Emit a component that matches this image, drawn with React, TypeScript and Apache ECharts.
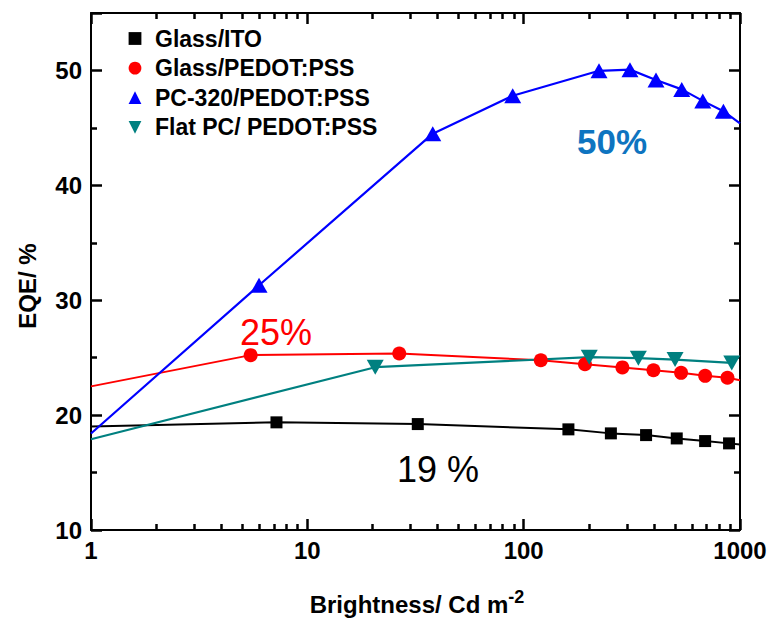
import { useEffect, useRef } from 'react';
import * as echarts from 'echarts';

const FONT = "'Liberation Sans', Arial, Helvetica, sans-serif";

const seriesNames = ['Glass/ITO', 'Glass/PEDOT:PSS', 'PC-320/PEDOT:PSS', 'Flat PC/ PEDOT:PSS'];
const seriesColors = ['#000000', '#ff0000', '#0000ff', '#008080'];

// Glass/ITO (points flagged 0 are line ends without a marker)
const glassItoX = [1, 7.2, 32.4, 161, 253, 368, 510, 690, 890, 1000];
const glassItoY = [19.0, 19.37, 19.22, 18.76, 18.41, 18.26, 17.97, 17.74, 17.54, 17.45];
const glassItoMarked = [0, 1, 1, 1, 1, 1, 1, 1, 1, 0];

// Glass/PEDOT:PSS
const glassPedotX = [1, 5.47, 26.6, 120, 192, 286, 398, 534, 690, 875, 1000];
const glassPedotY = [22.5, 25.22, 25.36, 24.78, 24.43, 24.15, 23.91, 23.68, 23.42, 23.25, 23.04];
const glassPedotMarked = [0, 1, 1, 1, 1, 1, 1, 1, 1, 1, 0];

// PC-320/PEDOT:PSS
const pc320X = [1, 5.98, 38, 89, 223, 310, 409, 538, 673, 838, 1000];
const pc320Y = [18.4, 31.3, 44.5, 47.8, 49.97, 50.07, 49.17, 48.35, 47.35, 46.45, 45.4];
const pc320Marked = [0, 1, 1, 1, 1, 1, 1, 1, 1, 1, 0];

// Flat PC/ PEDOT:PSS
const flatPcX = [1, 20.6, 201, 339, 501, 916];
const flatPcY = [17.9, 24.17, 25.04, 24.96, 24.83, 24.54];
const flatPcMarked = [0, 1, 1, 1, 1, 1];

const annotations = ['50%', '25%', '19 %'];

function buildData(xs: number[], ys: number[], marked: number[]) {
  return xs.map((x, i) =>
    marked[i] ? { value: [x, ys[i]] } : { value: [x, ys[i]], symbol: 'none' }
  );
}

export default function App() {
  const ref = useRef<HTMLDivElement>(null);

  useEffect(() => {
    if (!ref.current) return;
    const chart = echarts.init(ref.current, undefined, { renderer: 'svg' });

    const mkLine = () => ({ show: true, onZero: false, lineStyle: { color: '#000', width: 2 } });
    const mkTick = () => ({ show: true, inside: true, length: 11, lineStyle: { color: '#000', width: 2.5 } });
    const mkMinor = (n: number) => ({ show: true, splitNumber: n, length: 6, lineStyle: { color: '#000', width: 2.5 } });

    const xBase = () => ({
      type: 'log' as const,
      logBase: 10,
      min: 1,
      max: 1000,
      splitLine: { show: false },
      minorSplitLine: { show: false },
      axisLine: mkLine(),
      axisTick: mkTick(),
      minorTick: mkMinor(9),
    });
    const yBase = () => ({
      type: 'value' as const,
      min: 10,
      max: 55,
      interval: 10,
      splitLine: { show: false },
      minorSplitLine: { show: false },
      axisLine: mkLine(),
      axisTick: mkTick(),
      minorTick: mkMinor(2),
    });

    const option: any = {
      animation: false,
      backgroundColor: '#ffffff',
      textStyle: { fontFamily: FONT },
      grid: { left: 91, top: 13, right: 30, bottom: 90, containLabel: false },
      legend: {
        orient: 'vertical',
        left: 115,
        top: 22,
        itemWidth: 30,
        itemHeight: 16,
        itemGap: 6.6,
        selectedMode: false,
        data: seriesNames,
        lineStyle: { width: 0, opacity: 0 },
        textStyle: { fontFamily: FONT, fontWeight: 'bold', fontSize: 23, lineHeight: 22, color: '#000' },
      },
      xAxis: [
        {
          ...xBase(),
          position: 'bottom',
          axisLabel: {
            show: true,
            color: '#000',
            fontFamily: FONT,
            fontWeight: 'bold',
            fontSize: 24,
            margin: 8,
            formatter: (v: number) => String(v),
          },
        },
        {
          ...xBase(),
          position: 'top',
          axisLabel: { show: false },
        },
      ],
      yAxis: [
        {
          ...yBase(),
          position: 'left',
          axisLabel: {
            show: true,
            color: '#000',
            fontFamily: FONT,
            fontWeight: 'bold',
            fontSize: 24,
            margin: 9,
            formatter: (v: number) => (v > 50 ? '' : String(v)),
          },
        },
        {
          ...yBase(),
          position: 'right',
          axisLabel: { show: false },
        },
      ],
      series: [
        {
          name: seriesNames[0],
          type: 'line',
          data: buildData(glassItoX, glassItoY, glassItoMarked),
          symbol: 'rect',
          symbolSize: 12,
          itemStyle: { color: seriesColors[0] },
          lineStyle: { color: seriesColors[0], width: 2 },
        },
        {
          name: seriesNames[1],
          type: 'line',
          data: buildData(glassPedotX, glassPedotY, glassPedotMarked),
          symbol: 'circle',
          symbolSize: 14,
          itemStyle: { color: seriesColors[1] },
          lineStyle: { color: seriesColors[1], width: 2 },
        },
        {
          name: seriesNames[2],
          type: 'line',
          data: buildData(pc320X, pc320Y, pc320Marked),
          symbol: 'triangle',
          symbolSize: [17, 15],
          itemStyle: { color: seriesColors[2] },
          lineStyle: { color: seriesColors[2], width: 2.2 },
        },
        {
          name: seriesNames[3],
          type: 'line',
          data: buildData(flatPcX, flatPcY, flatPcMarked),
          symbol: 'triangle',
          symbolRotate: 180,
          symbolSize: [17, 15],
          itemStyle: { color: seriesColors[3] },
          lineStyle: { color: seriesColors[3], width: 2.2 },
        },
      ],
      graphic: [
        {
          type: 'text',
          x: 612,
          y: 141,
          style: { text: annotations[0], align: 'center', verticalAlign: 'middle', fill: '#0e74c0', font: `bold 35px ${FONT}` },
        },
        {
          type: 'text',
          x: 276,
          y: 332,
          style: { text: annotations[1], align: 'center', verticalAlign: 'middle', fill: '#ff0000', font: `36px ${FONT}` },
        },
        {
          type: 'text',
          x: 438,
          y: 469,
          style: { text: annotations[2], align: 'center', verticalAlign: 'middle', fill: '#000000', font: `36px ${FONT}` },
        },
        {
          type: 'text',
          x: 27,
          y: 286,
          rotation: Math.PI / 2,
          style: { text: 'EQE/ %', align: 'center', verticalAlign: 'middle', fill: '#000', font: `bold 24px ${FONT}` },
        },
        {
          type: 'text',
          x: 417,
          y: 602,
          style: {
            text: '{a|Brightness/ Cd m}{s|-2}',
            align: 'center',
            verticalAlign: 'middle',
            rich: {
              a: { fontFamily: FONT, fontWeight: 'bold', fontSize: 24, lineHeight: 28, verticalAlign: 'bottom', fill: '#000' },
              s: { fontFamily: FONT, fontWeight: 'bold', fontSize: 18, lineHeight: 10, verticalAlign: 'top', fill: '#000' },
            },
          },
        },
      ],
    };

    chart.setOption(option);
    return () => chart.dispose();
  }, []);

  return (
    <div
      ref={ref}
      style={{ position: 'fixed', left: 0, top: 0, width: 770, height: 620, background: '#fff' }}
    />
  );
}
